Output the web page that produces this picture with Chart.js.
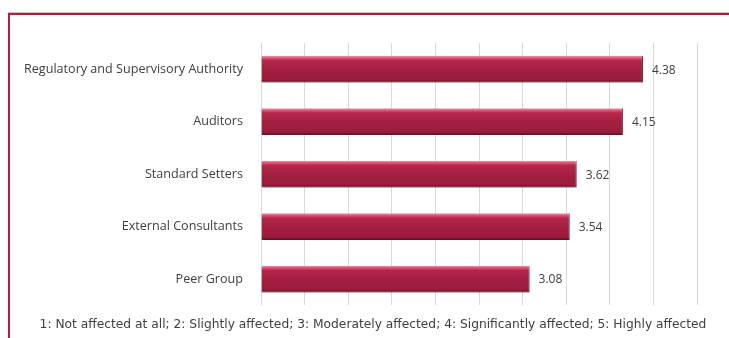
<!DOCTYPE html>
<html>
<head>
<meta charset="utf-8">
<script src="https://cdn.jsdelivr.net/npm/chart.js@4"></script>
<style>
  html, body { margin: 0; padding: 0; background: #ffffff; }
  #wrap { width: 729px; height: 338px; }
</style>
</head>
<body>
<div id="wrap"><canvas id="impact-chart" width="729" height="338"></canvas></div>
<script>
// Stakeholders and their average impact scores (scale 1-5)
const stakeholders = [
    'Regulatory and Supervisory Authority',
    'Auditors',
    'Standard Setters',
    'External Consultants',
    'Peer Group',
];
const scores = [4.38, 4.15, 3.62, 3.54, 3.08];
const scaleMin = 0;
const scaleMax = 5;
const scaleStep = 0.5;
const scaleNote = '1: Not affected at all; 2: Slightly affected; 3: Moderately affected; 4: Significantly affected; 5: Highly affected';

const barShare = 0.51;

// Glossy crimson fill for each bar, built from the bar's own band on the y scale
function barFill(context) {
    const chart = context.chart;
    const yScale = chart.scales.y;
    if (!yScale || !chart.chartArea) return '#a41e3f';
    const yc = yScale.getPixelForValue(context.dataIndex);
    const half = (yScale.height / stakeholders.length) * barShare / 2;
    const g = chart.ctx.createLinearGradient(0, yc - half, 0, yc + half);
    g.addColorStop(0, '#f29aae');
    g.addColorStop(0.07, '#e0587a');
    g.addColorStop(0.18, '#b4264a');
    g.addColorStop(0.5, '#a51f40');
    g.addColorStop(0.88, '#9b1b3b');
    g.addColorStop(1, '#6a0f26');
    return g;
}

// Dark red frame along the top and left edges
const framePlugin = {
    id: 'frame',
    beforeDraw(chart) {
        const ctx = chart.ctx;
        ctx.save();
        ctx.fillStyle = '#e9b7c2';
        ctx.fillRect(8, 12, chart.width - 8, 1);
        ctx.fillStyle = '#a8213f';
        ctx.fillRect(8, 13, chart.width - 8, 2);
        ctx.fillRect(8, 13, 2, chart.height - 13);
        ctx.restore();
    },
};

// Soft shadow under the bars
const shadowPlugin = {
    id: 'barShadow',
    beforeDatasetsDraw(chart) {
        const ctx = chart.ctx;
        ctx.save();
        ctx.shadowColor = 'rgba(0, 0, 0, 0.28)';
        ctx.shadowBlur = 3;
        ctx.shadowOffsetX = 1;
        ctx.shadowOffsetY = 2;
    },
    afterDatasetsDraw(chart) {
        chart.ctx.restore();
    },
};

// Score printed just past the end of each bar
const valueLabels = {
    id: 'valueLabels',
    afterDatasetsDraw(chart) {
        const ctx = chart.ctx;
        const meta = chart.getDatasetMeta(0);
        ctx.save();
        ctx.font = '12px "Open Sans", sans-serif';
        ctx.fillStyle = '#404040';
        ctx.textAlign = 'left';
        ctx.textBaseline = 'middle';
        meta.data.forEach((bar, i) => {
            ctx.fillText(scores[i].toFixed(2), bar.x + 9, bar.y + 1);
        });
        ctx.restore();
    },
};

const ctx = document.getElementById('impact-chart').getContext('2d');
new Chart(ctx, {
    type: 'bar',
    data: {
        labels: stakeholders,
        datasets: [
            {
                data: scores,
                backgroundColor: barFill,
                borderColor: '#7d1430',
                borderWidth: { top: 0, left: 0, right: 1, bottom: 1 },
                borderSkipped: false,
                barPercentage: barShare,
                categoryPercentage: 1,
            },
        ],
    },
    options: {
        indexAxis: 'y',
        responsive: false,
        animation: false,
        devicePixelRatio: 1,
        layout: {
            padding: { left: 17, top: 43, right: 0, bottom: 0 },
        },
        plugins: {
            legend: { display: false },
            tooltip: { enabled: false },
            title: {
                display: true,
                position: 'bottom',
                text: scaleNote,
                color: '#404040',
                font: { family: '"DejaVu Sans", sans-serif', size: 12.25, weight: 'normal' },
                padding: { top: 12, bottom: 6 },
            },
        },
        scales: {
            x: {
                min: scaleMin,
                max: scaleMax,
                ticks: { display: false, stepSize: scaleStep },
                grid: { color: '#d9d9d9', drawTicks: false },
                border: { display: false },
            },
            y: {
                grid: { display: false },
                border: { display: false },
                ticks: {
                    color: '#404040',
                    padding: 10,
                    font: { family: '"Open Sans", sans-serif', size: 12.6 },
                },
                afterFit(scale) {
                    scale.width = 244;
                },
            },
            // empty right-hand gutter beyond the last grid line
            yRight: {
                type: 'category',
                position: 'right',
                grid: { display: false },
                border: { display: false },
                ticks: { display: false },
                afterFit(scale) {
                    scale.width = 32;
                },
            },
        },
    },
    plugins: [framePlugin, shadowPlugin, valueLabels],
});
</script>
</body>
</html>
